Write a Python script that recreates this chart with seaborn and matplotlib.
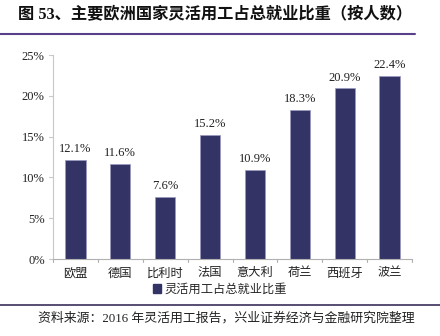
import matplotlib
matplotlib.use("Agg")
import matplotlib.pyplot as plt
import seaborn as sns
import pandas as pd
from matplotlib.lines import Line2D
from matplotlib.patches import Patch

categories = ["欧盟", "德国", "比利时", "法国", "意大利", "荷兰", "西班牙", "波兰"]
values = [12.1, 11.6, 7.6, 15.2, 10.9, 18.3, 20.9, 22.4]
yticks = [0, 5, 10, 15, 20, 25]
series_name = "灵活用工占总就业比重"
title = "图 53、主要欧洲国家灵活用工占总就业比重（按人数）"
source = "资料来源：2016 年灵活用工报告，兴业证券经济与金融研究院整理"

sns.set_theme(style="white")
plt.rcParams['font.family'] = ['Liberation Serif', 'Noto Sans CJK SC', 'DejaVu Sans']

bar_color = "#333366"
df = pd.DataFrame({"cat": categories, "val": values})

fig = plt.figure(figsize=(4.4, 3.36), dpi=100)
ax = fig.add_axes([53/440, 1-259/336, (412-53)/440, (259-55)/336])
sns.barplot(data=df, x="cat", y="val", color=bar_color, width=0.45, ax=ax,
            saturation=1, edgecolor="#9a9ac0", linewidth=0.5)

ax.set_ylim(0, 25)
ax.set_xlim(-0.5, len(categories) - 0.5)
ax.set_yticks(yticks)
ax.set_yticklabels([f"{t}%" for t in yticks], fontsize=9, color="#222222")
ax.set_xticks(range(len(categories)))
ax.set_xticklabels(categories, fontsize=8.8, color="#222222")
ax.tick_params(axis="x", length=0, pad=6)
ax.tick_params(axis="y", length=0, pad=6)
ax.set_xlabel("")
ax.set_ylabel("")

for s in ["top", "right"]:
    ax.spines[s].set_visible(False)
ax.spines["left"].set_color("#c8c8c8")
ax.spines["bottom"].set_color("#b0b0b0")
ax.spines["left"].set_linewidth(0.8)
ax.spines["bottom"].set_linewidth(0.8)

# boundary tick marks on x axis
for b in range(len(categories) + 1):
    ax.plot([b - 0.5, b - 0.5], [0, -0.35], color="#b0b0b0", lw=0.8, clip_on=False)
# small ticks on y axis
for t in yticks:
    ax.plot([-0.5, -0.6], [t, t], color="#c8c8c8", lw=0.8, clip_on=False)

for i, v in enumerate(values):
    ax.text(i, v + 0.6, f"{v}%", ha="center", va="bottom", fontsize=9, color="#222222")

handle = Patch(facecolor=bar_color, edgecolor=bar_color)
fig.legend([handle], [series_name], loc="center", bbox_to_anchor=(0.5, 1-290/336),
           frameon=False, fontsize=8.8, handlelength=0.7, handleheight=0.7,
           handletextpad=0.3, borderpad=0)

fig.text(18/440, 1-14/336, title, fontsize=11.7, fontweight="bold", va="center", ha="left",
         color="#111111")
fig.add_artist(Line2D([0, 415/440], [1-34/336, 1-34/336], color="#5a3f8a", lw=1.5))
fig.add_artist(Line2D([0, 1], [1-305/336, 1-305/336], color="#3a2f5a", lw=1.2))
fig.text(38/440, 1-318/336, source, fontsize=9.3, va="center", ha="left", color="#222222")

fig.savefig("out.png", dpi=100)
